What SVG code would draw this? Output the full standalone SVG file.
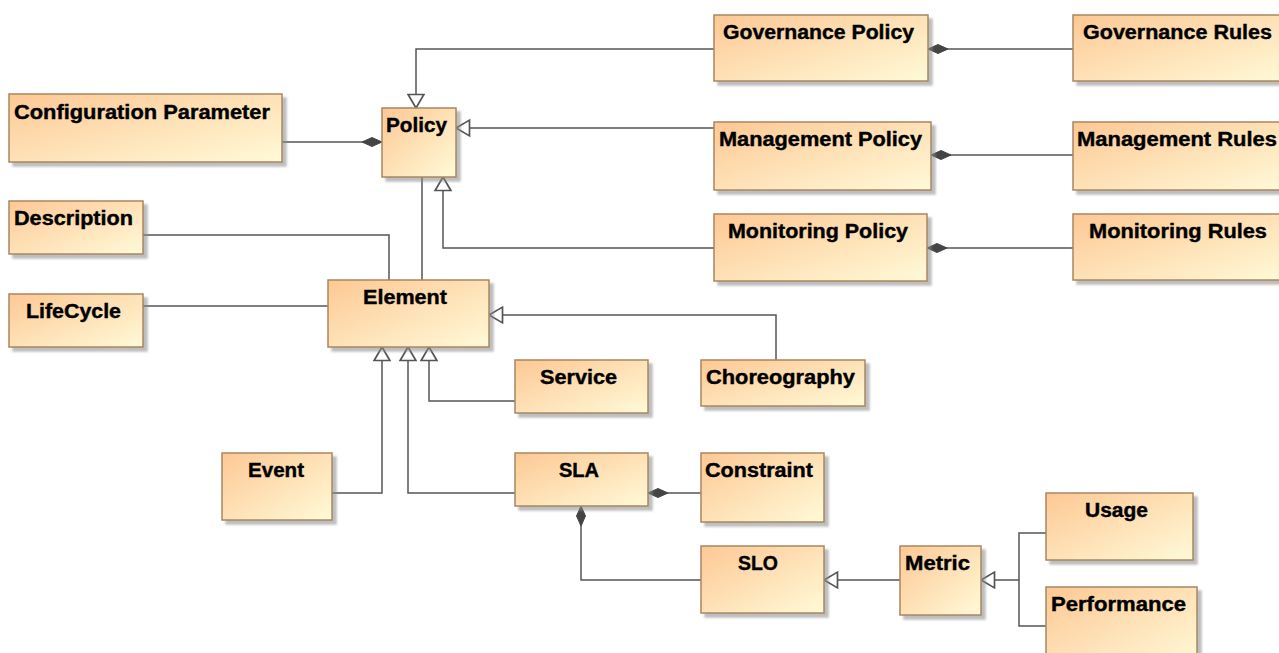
<svg xmlns="http://www.w3.org/2000/svg" width="1279" height="653" viewBox="0 0 1279 653">
<style>
.box{fill:url(#g);stroke:#A88762;stroke-width:1.5;filter:url(#sh)}
.lbl{font-family:"Liberation Sans",Arial,sans-serif;font-weight:bold;font-size:20px;fill:#000;stroke:#000;stroke-width:0.4;text-anchor:middle}
.c{fill:none;stroke:#555;stroke-width:1.5}
.gen{marker-end:url(#tri)}
.comp{marker-start:url(#dia)}
</style>
<defs>
<linearGradient id="g" x1="0" y1="0" x2="1" y2="1">
<stop offset="0" stop-color="#FDC894"/>
<stop offset="1" stop-color="#FFFAD8"/>
</linearGradient>
<filter id="sh" x="-10%" y="-10%" width="130%" height="140%">
<feGaussianBlur in="SourceAlpha" stdDeviation="1.2" result="b"/>
<feOffset in="b" dx="4" dy="4" result="o"/>
<feFlood flood-color="#888" flood-opacity="0.55"/>
<feComposite in2="o" operator="in" result="s"/>
<feMerge><feMergeNode in="s"/><feMergeNode in="SourceGraphic"/></feMerge>
</filter>
<marker id="tri" markerUnits="userSpaceOnUse" markerWidth="16" markerHeight="18" refX="12" refY="0" viewBox="-1 -8 14 16" orient="auto" overflow="visible">
<path d="M0,-7 L12,0 L0,7 Z" fill="#fff" stroke="#555" stroke-width="1.5"/>
</marker>
<marker id="dia" markerUnits="userSpaceOnUse" markerWidth="22" markerHeight="10" refX="0" refY="0" viewBox="-1 -5 22 10" orient="auto" overflow="visible">
<path d="M0,0 L10,-4.5 L20,0 L10,4.5 Z" fill="#444" stroke="#444" stroke-width="1"/>
</marker>
</defs>
<g id="connectors">
<path class="c gen" d="M714,49 H416 V108"/>
<path class="c gen" d="M714,128 H456"/>
<path class="c gen" d="M714,248 H443 V177"/>
<path class="c comp" d="M382,142 H282"/>
<path class="c" d="M422,177 V280"/>
<path class="c" d="M143,235 H389 V280"/>
<path class="c" d="M143,306 H328"/>
<path class="c gen" d="M776,360 V315 H489"/>
<path class="c gen" d="M515,401 H429 V347"/>
<path class="c gen" d="M515,493 H408 V347"/>
<path class="c gen" d="M332,493 H382 V347"/>
<path class="c comp" d="M648,493 H701"/>
<path class="c comp" d="M581,506 V580 H701"/>
<path class="c gen" d="M900,580 H824"/>
<path class="c gen" d="M1046,533 H1019 V580 H981"/>
<path class="c" d="M1046,626 H1019 V580"/>
<path class="c comp" d="M928,49 H1073"/>
<path class="c comp" d="M931,155 H1073"/>
<path class="c comp" d="M927,248 H1073"/>
</g>
<g id="configuration-parameter"><rect class="box" x="9" y="94" width="273" height="68"/><text class="lbl" x="142" y="119" textLength="256" lengthAdjust="spacingAndGlyphs">Configuration Parameter</text></g>
<g id="policy"><rect class="box" x="382" y="108" width="74" height="69"/><text class="lbl" x="416.5" y="132" textLength="61" lengthAdjust="spacingAndGlyphs">Policy</text></g>
<g id="governance-policy"><rect class="box" x="714" y="15" width="214" height="66"/><text class="lbl" x="818.5" y="39" textLength="191" lengthAdjust="spacingAndGlyphs">Governance Policy</text></g>
<g id="governance-rules"><rect class="box" x="1073" y="15" width="215" height="66"/><text class="lbl" x="1177.5" y="39" textLength="189" lengthAdjust="spacingAndGlyphs">Governance Rules</text></g>
<g id="management-policy"><rect class="box" x="714" y="122" width="217" height="68"/><text class="lbl" x="820.5" y="146" textLength="203" lengthAdjust="spacingAndGlyphs">Management Policy</text></g>
<g id="management-rules"><rect class="box" x="1073" y="122" width="215" height="68"/><text class="lbl" x="1177" y="146" textLength="200" lengthAdjust="spacingAndGlyphs">Management Rules</text></g>
<g id="monitoring-policy"><rect class="box" x="714" y="214" width="213" height="67"/><text class="lbl" x="818" y="238" textLength="180" lengthAdjust="spacingAndGlyphs">Monitoring Policy</text></g>
<g id="monitoring-rules"><rect class="box" x="1073" y="214" width="215" height="66"/><text class="lbl" x="1178" y="238" textLength="178" lengthAdjust="spacingAndGlyphs">Monitoring Rules</text></g>
<g id="description"><rect class="box" x="9" y="201" width="134" height="53"/><text class="lbl" x="73.5" y="225" textLength="119" lengthAdjust="spacingAndGlyphs">Description</text></g>
<g id="lifecycle"><rect class="box" x="9" y="294" width="134" height="53"/><text class="lbl" x="73.5" y="318" textLength="95" lengthAdjust="spacingAndGlyphs">LifeCycle</text></g>
<g id="element"><rect class="box" x="328" y="280" width="161" height="67"/><text class="lbl" x="405" y="304" textLength="84" lengthAdjust="spacingAndGlyphs">Element</text></g>
<g id="service"><rect class="box" x="515" y="360" width="133" height="53"/><text class="lbl" x="578.5" y="384" textLength="77" lengthAdjust="spacingAndGlyphs">Service</text></g>
<g id="choreography"><rect class="box" x="701" y="360" width="164" height="46"/><text class="lbl" x="780.5" y="384" textLength="149" lengthAdjust="spacingAndGlyphs">Choreography</text></g>
<g id="event"><rect class="box" x="222" y="453" width="110" height="67"/><text class="lbl" x="276" y="477" textLength="56" lengthAdjust="spacingAndGlyphs">Event</text></g>
<g id="sla"><rect class="box" x="515" y="453" width="133" height="53"/><text class="lbl" x="579" y="477" textLength="40" lengthAdjust="spacingAndGlyphs">SLA</text></g>
<g id="constraint"><rect class="box" x="701" y="453" width="123" height="69"/><text class="lbl" x="759" y="477" textLength="108" lengthAdjust="spacingAndGlyphs">Constraint</text></g>
<g id="slo"><rect class="box" x="701" y="546" width="123" height="67"/><text class="lbl" x="758" y="570" textLength="40" lengthAdjust="spacingAndGlyphs">SLO</text></g>
<g id="metric"><rect class="box" x="900" y="546" width="81" height="69"/><text class="lbl" x="937.5" y="570" textLength="65" lengthAdjust="spacingAndGlyphs">Metric</text></g>
<g id="usage"><rect class="box" x="1046" y="493" width="147" height="67"/><text class="lbl" x="1116.5" y="517" textLength="63" lengthAdjust="spacingAndGlyphs">Usage</text></g>
<g id="performance"><rect class="box" x="1046" y="587" width="151" height="80"/><text class="lbl" x="1118.5" y="611" textLength="135" lengthAdjust="spacingAndGlyphs">Performance</text></g>
</svg>
